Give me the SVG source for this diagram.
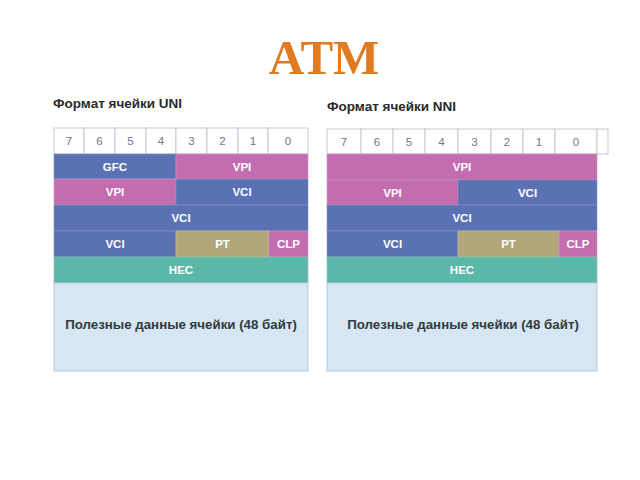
<svg xmlns="http://www.w3.org/2000/svg" width="640" height="480" viewBox="0 0 640 480">
<style>
.hd{fill:#ffffff;stroke:#c3cad3;stroke-width:1}
.dg{font-family:"Liberation Sans",Arial,sans-serif;font-size:11.5px;fill:#6d7789;text-anchor:middle}
.b{fill:#5a72b4;stroke:#7f93c6;stroke-width:0.6}
.p{fill:#c46cb0;stroke:#d597c8;stroke-width:0.6}
.t{fill:#b3a67b;stroke:#c9bf9c;stroke-width:0.6}
.g{fill:#5bb7a7;stroke:#86cbbd;stroke-width:0.6}
.pl{fill:#d6e6f3;stroke:#b9c7d4;stroke-width:1}
.lb{font-family:"Liberation Sans",Arial,sans-serif;font-size:11.5px;font-weight:bold;fill:#ffffff;text-anchor:middle}
.pt{font-family:"Liberation Sans",Arial,sans-serif;font-size:13.3px;font-weight:bold;fill:#333a40;text-anchor:middle}
.cap{font-family:"Liberation Sans",Arial,sans-serif;font-size:13.5px;font-weight:bold;fill:#2a2a2a}
</style>
<rect width="640" height="480" fill="#ffffff"/>
<text x="324" y="74" font-family="Liberation Serif,'Times New Roman',serif" font-size="49" font-weight="bold" fill="#e07b22" text-anchor="middle">ATM</text>

<g id="uni">
<text class="cap" x="53" y="108">Формат ячейки UNI</text>
<g id="uni-header">
<rect class="hd" x="54" y="128" width="30" height="26"/>
<rect class="hd" x="84" y="128" width="31" height="26"/>
<rect class="hd" x="115" y="128" width="31" height="26"/>
<rect class="hd" x="146" y="128" width="30" height="26"/>
<rect class="hd" x="176" y="128" width="31" height="26"/>
<rect class="hd" x="207" y="128" width="31" height="26"/>
<rect class="hd" x="238" y="128" width="30" height="26"/>
<rect class="hd" x="268" y="128" width="40" height="26"/>
<text class="dg" x="69" y="145">7</text>
<text class="dg" x="99.5" y="145">6</text>
<text class="dg" x="130.5" y="145">5</text>
<text class="dg" x="161" y="145">4</text>
<text class="dg" x="191.5" y="145">3</text>
<text class="dg" x="222.5" y="145">2</text>
<text class="dg" x="253" y="145">1</text>
<text class="dg" x="288" y="145">0</text>
</g>
<g id="uni-gfc"><rect class="b" x="54" y="154" width="122" height="25"/><text class="lb" x="115" y="171">GFC</text></g>
<g id="uni-vpi1"><rect class="p" x="176" y="154" width="132" height="25"/><text class="lb" x="242" y="171">VPI</text></g>
<g id="uni-vpi2"><rect class="p" x="54" y="179" width="122" height="26"/><text class="lb" x="115" y="196">VPI</text></g>
<g id="uni-vci1"><rect class="b" x="176" y="179" width="132" height="26"/><text class="lb" x="242" y="196">VCI</text></g>
<g id="uni-vci2"><rect class="b" x="54" y="205" width="254" height="26"/><text class="lb" x="181" y="222">VCI</text></g>
<g id="uni-vci3"><rect class="b" x="54" y="231" width="122" height="26"/><text class="lb" x="115" y="248">VCI</text></g>
<g id="uni-pt"><rect class="t" x="176" y="231" width="93" height="26"/><text class="lb" x="222.5" y="248">PT</text></g>
<g id="uni-clp"><rect class="p" x="269" y="231" width="39" height="26"/><text class="lb" x="288.5" y="248">CLP</text></g>
<g id="uni-hec"><rect class="g" x="54" y="257" width="254" height="26"/><text class="lb" x="181" y="274">HEC</text></g>
<g id="uni-payload"><rect class="pl" x="54" y="283" width="254" height="88"/><text class="pt" x="181" y="329">Полезные данные ячейки (48 байт)</text></g>
</g>

<g id="nni">
<text class="cap" x="327" y="111">Формат ячейки NNI</text>
<g id="nni-header">
<rect class="hd" x="327" y="129" width="34" height="25"/>
<rect class="hd" x="361" y="129" width="32" height="25"/>
<rect class="hd" x="393" y="129" width="32" height="25"/>
<rect class="hd" x="425" y="129" width="33" height="25"/>
<rect class="hd" x="458" y="129" width="33" height="25"/>
<rect class="hd" x="491" y="129" width="32" height="25"/>
<rect class="hd" x="523" y="129" width="32" height="25"/>
<rect class="hd" x="555" y="129" width="42" height="25"/>
<rect class="hd" x="597" y="129" width="11" height="25"/>
<text class="dg" x="344" y="146">7</text>
<text class="dg" x="377" y="146">6</text>
<text class="dg" x="409" y="146">5</text>
<text class="dg" x="441.5" y="146">4</text>
<text class="dg" x="474.5" y="146">3</text>
<text class="dg" x="507" y="146">2</text>
<text class="dg" x="539" y="146">1</text>
<text class="dg" x="576" y="146">0</text>
</g>
<g id="nni-vpi1"><rect class="p" x="327" y="154" width="270" height="26"/><text class="lb" x="462" y="171">VPI</text></g>
<g id="nni-vpi2"><rect class="p" x="327" y="180" width="131" height="25"/><text class="lb" x="392.5" y="197">VPI</text></g>
<g id="nni-vci1"><rect class="b" x="458" y="180" width="139" height="25"/><text class="lb" x="527.5" y="197">VCI</text></g>
<g id="nni-vci2"><rect class="b" x="327" y="205" width="270" height="26"/><text class="lb" x="462" y="222">VCI</text></g>
<g id="nni-vci3"><rect class="b" x="327" y="231" width="131" height="26"/><text class="lb" x="392.5" y="248">VCI</text></g>
<g id="nni-pt"><rect class="t" x="458" y="231" width="101" height="26"/><text class="lb" x="508.5" y="248">PT</text></g>
<g id="nni-clp"><rect class="p" x="559" y="231" width="38" height="26"/><text class="lb" x="578" y="248">CLP</text></g>
<g id="nni-hec"><rect class="g" x="327" y="257" width="270" height="26"/><text class="lb" x="462" y="274">HEC</text></g>
<g id="nni-payload"><rect class="pl" x="327" y="283" width="270" height="88"/><text class="pt" x="463" y="329">Полезные данные ячейки (48 байт)</text></g>
</g>
<g id="connectors"/>
</svg>
